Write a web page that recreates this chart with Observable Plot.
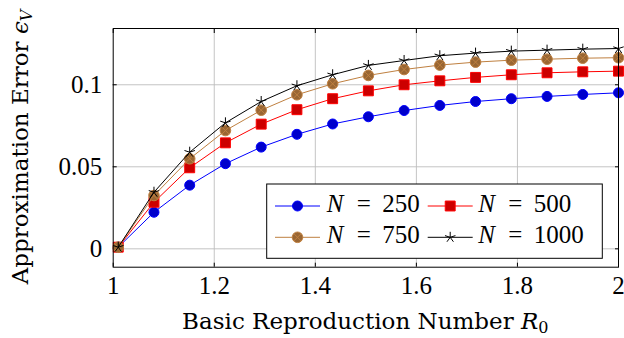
<!DOCTYPE html>
<html><head><meta charset="utf-8">
<script src="https://cdn.jsdelivr.net/npm/d3@7"></script>
<script src="https://cdn.jsdelivr.net/npm/@observablehq/plot@0.6"></script>
<style>
html,body{margin:0;padding:0;background:#fff;}
svg{display:block;}
</style>
</head><body>
<div id="chart"></div>
<script>
const xs = [1.01, 1.0807, 1.1514, 1.2221, 1.2929, 1.3636, 1.4343, 1.505, 1.5757, 1.6464, 1.7171, 1.7879, 1.8586, 1.9293, 2.0];
const n250 = [0.001, 0.0223, 0.0388, 0.0519, 0.0620, 0.0698, 0.0761, 0.0805, 0.0843, 0.0874, 0.0898, 0.0915, 0.0929, 0.0941, 0.0951];
const n500 = [0.001, 0.0284, 0.0494, 0.0646, 0.0760, 0.0848, 0.0915, 0.0963, 0.1000, 0.1024, 0.1045, 0.1061, 0.1073, 0.1079, 0.1083];
const n750 = [0.001, 0.0325, 0.0549, 0.0721, 0.0845, 0.0939, 0.1006, 0.1057, 0.1093, 0.1120, 0.1138, 0.1150, 0.1156, 0.1162, 0.1165];
const n1000 = [0.001, 0.0345, 0.0589, 0.0768, 0.0898, 0.0994, 0.1061, 0.1118, 0.1148, 0.1177, 0.1193, 0.1205, 0.1211, 0.1217, 0.1221];
const seriesNames = ["250", "500", "750", "1000"];
const xTicks = [1, 1.2, 1.4, 1.6, 1.8, 2];
const xTickLabels = ["1", "1.2", "1.4", "1.6", "1.8", "2"];
const yTicks = [0, 0.05, 0.1];
const yTickLabels = ["0", "0.05", "0.1"];

const otimes = {draw(ctx, size) {
  const r = Math.sqrt(size / Math.PI);
  ctx.moveTo(r, 0); ctx.arc(0, 0, r, 0, 2 * Math.PI);
  const d = r / Math.SQRT2;
  ctx.moveTo(-d, -d); ctx.lineTo(d, d);
  ctx.moveTo(-d, d); ctx.lineTo(d, -d);
}};
const star5 = {draw(ctx, size) {
  const r = Math.sqrt(size / Math.PI);
  for (let k = 0; k < 5; k++) {
    const a = -Math.PI / 2 + k * 2 * Math.PI / 5;
    ctx.moveTo(0, 0); ctx.lineTo(r * Math.cos(a), r * Math.sin(a));
  }
}};

const styles = [
  {stroke: "#0000ff", fill: "#0000cc", symbol: "circle", r: 5},
  {stroke: "#ff0000", fill: "#cc0000", symbol: "square", r: 5.6},
  {stroke: "#bf8040", fill: "#996633", symbol: otimes, r: 5.3},
  {stroke: "#000000", fill: "none", symbol: star5, r: 5.5}
];
const allY = [n250, n500, n750, n1000];
const data = [];
allY.forEach((ys, s) => ys.forEach((y, i) => data.push({x: xs[i], y, s})));

const numFont = "'Liberation Serif', serif";
const titleFont = "'DejaVu Serif', serif";
const marks = [
  Plot.gridX(xTicks.slice(1, -1), {stroke: "#bdbdbd", strokeOpacity: 1, strokeWidth: 0.9}),
  Plot.gridY(yTicks, {stroke: "#bdbdbd", strokeOpacity: 1, strokeWidth: 0.9}),
  Plot.axisX(xTicks, {anchor: "bottom", tickSize: 0, tickPadding: 9, tickFormat: (d, i) => xTickLabels[i], fontSize: 25, fontFamily: numFont, label: null}),
  Plot.axisY(yTicks, {anchor: "left", tickSize: 0, tickPadding: 11, tickFormat: (d, i) => yTickLabels[i], fontSize: 25, fontFamily: numFont, label: null}),
  Plot.axisX(xTicks, {anchor: "bottom", tickSize: -4, text: null, label: null}),
  Plot.axisX(xTicks, {anchor: "top", tickSize: -4, text: null, label: null}),
  Plot.axisY(yTicks, {anchor: "left", tickSize: -4, text: null, label: null}),
  Plot.axisY(yTicks, {anchor: "right", tickSize: -4, text: null, label: null})
];
styles.forEach((st, s) => {
  const d = data.filter(p => p.s === s);
  marks.push(Plot.line(d, {x: "x", y: "y", stroke: st.stroke, strokeWidth: 1}));
  marks.push(Plot.dot(d, {x: "x", y: "y", symbol: st.symbol, r: st.r, stroke: st.stroke, fill: st.fill, strokeWidth: 1}));
});
marks.push(Plot.frame({stroke: "#000", strokeWidth: 1}));

const svg = Plot.plot({
  width: 624, height: 338,
  marginLeft: 112.7, marginRight: 6, marginTop: 28, marginBottom: 71.3,
  x: {domain: [1, 2]},
  y: {domain: [-0.0112, 0.1343]},
  style: {fontFamily: numFont, background: "#fff", color: "#000", overflow: "visible"},
  marks
});

const sel = d3.select(svg);
// axis titles
sel.append("text").attr("x", 365.3).attr("y", 329).attr("text-anchor", "middle")
  .attr("font-family", titleFont).attr("font-size", 23)
  .call(t => { t.append("tspan").text("Basic Reproduction Number ");
               t.append("tspan").attr("font-style", "italic").text("R");
               t.append("tspan").attr("font-size", 16).attr("dy", 4).text("0"); });
sel.append("text").attr("transform", "translate(28,147) rotate(-90)").attr("text-anchor", "middle")
  .attr("font-family", titleFont).attr("font-size", 23)
  .call(t => { t.append("tspan").text("Approximation Error ");
               t.append("tspan").attr("font-style", "italic").text("\u03F5");
               t.append("tspan").attr("font-style", "italic").attr("font-size", 16).attr("dy", 4).text("V"); });

// legend
const lg = sel.append("g").attr("font-family", numFont).attr("font-size", 25).attr("text-anchor", "start");
lg.append("rect").attr("x", 266.7).attr("y", 184).attr("width", 335.6).attr("height", 74.3)
  .attr("fill", "#fff").attr("stroke", "#000").attr("stroke-width", 1);
const cols = [{lx: 275, tx: 326.7}, {lx: 427.7, tx: 478.3}];
const rows = [206, 237.3];
styles.forEach((st, s) => {
  const c = cols[s % 2], ry = rows[Math.floor(s / 2)];
  lg.append("line").attr("x1", c.lx).attr("x2", c.lx + 45).attr("y1", ry).attr("y2", ry)
    .attr("stroke", st.stroke).attr("stroke-width", 1);
  const sym = typeof st.symbol === "string" ? (st.symbol === "circle" ? d3.symbolCircle : d3.symbolSquare) : st.symbol;
  lg.append("path").attr("transform", `translate(${c.lx + 22.5},${ry})`)
    .attr("d", d3.symbol(sym, st.r * st.r * Math.PI)())
    .attr("fill", st.fill).attr("stroke", st.stroke).attr("stroke-width", 1);
  const t = lg.append("text").attr("y", ry + 5.5);
  t.append("tspan").attr("x", c.tx).attr("font-style", "italic").text("N");
  t.append("tspan").attr("x", c.tx + 30).text("=");
  t.append("tspan").attr("x", c.tx + 55.5).text(seriesNames[s]);
});

document.getElementById("chart").appendChild(svg);
</script>
</body></html>
